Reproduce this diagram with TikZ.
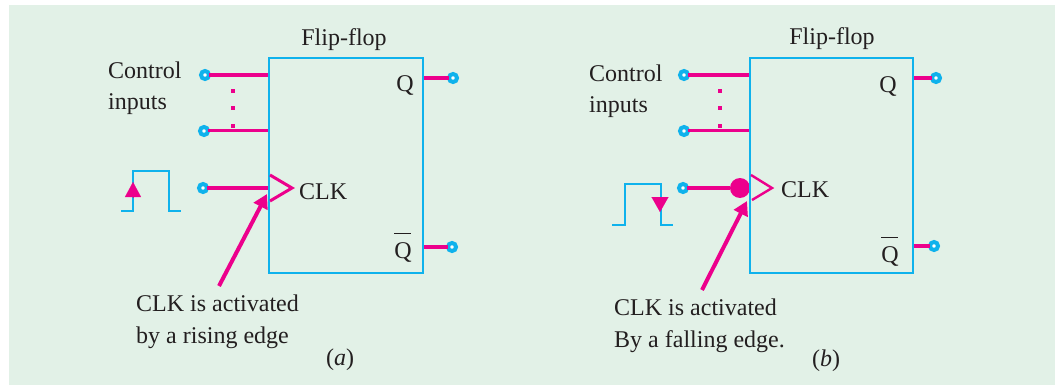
\documentclass[tikz,border=0pt]{standalone}
\usepackage{fontspec}
\setmainfont{Liberation Serif}
\usetikzlibrary{arrows.meta}
\definecolor{bgc}{HTML}{E2F1E7}
\definecolor{cy}{HTML}{0FB2EC}
\definecolor{mg}{HTML}{EC008C}
\definecolor{tx}{HTML}{231F20}
\newcommand{\qbar}{\rlap{\raisebox{24pt}{\rule{17pt}{1.3pt}}}Q}
\tikzset{x=1pt,y=-1pt,
 wire/.style={draw=mg,line width=3.4pt},
 thin wire/.style={draw=mg,line width=3pt},
 box/.style={draw=cy,line width=2.6pt,fill=none},
 pulse/.style={draw=cy,line width=2pt},
 term/.style={circle,draw=cy,fill=white,line width=4pt,minimum size=8pt,inner sep=0pt,outer sep=0pt},
 lab/.style={text=tx,font=\fontsize{24}{28}\selectfont,inner sep=0pt},
 arr/.style={draw=mg,line width=4pt,-{Triangle[length=14pt,width=15pt]}},
 dotm/.style={fill=mg,inner sep=0pt,minimum size=3.6pt,rectangle}
}
\begin{document}
\begin{tikzpicture}
\useasboundingbox (0,0) rectangle (1055,385);
\fill[bgc] (9,5) rectangle (1055,385);
% LEFT
\node[lab,anchor=base] (ft1) at (344,46) {Flip-flop};
\coordinate (b1nw) at (269,58); \coordinate (b1se) at (423,273);
\node[term] (i1) at (205,75) {};
\node[term] (i2) at (204,131) {};
\node[term] (i3) at (203,188) {};
\node[term] (o1) at (453,78) {};
\node[term] (o2) at (452,247) {};
\coordinate (e1) at (269,75); \coordinate (e2) at (269,131); \coordinate (e3) at (269,188);
\coordinate (e4) at (424,78); \coordinate (e5) at (424,247);
\draw[wire] (i1) -- (e1);
\draw[thin wire] (i2) -- (e2);
\draw[wire] (i3) -- (e3);
\draw[wire] (e4) -- (o1);
\draw[wire] (e5) -- (o2);
\draw[box] (b1nw) rectangle (b1se);
\draw[draw=mg,line width=3pt] (270,175) -- (292,188) -- (270,201);
\node[dotm] (d1) at (233,91) {};
\node[dotm] (d2) at (233,108) {};
\node[dotm] (d3) at (233,126) {};
\node[lab,anchor=base west] (c1) at (108,79) {Control};
\node[lab,anchor=base west] (c2) at (108,110) {inputs};
\node[lab,anchor=base west] (clk1) at (299,199) {CLK};
\node[lab,anchor=base] (q1) at (405,92) {Q};
\node[lab,anchor=base] (qb1) at (403,258) {\qbar};
\draw[pulse] (121,211) -- (133,211) -- (133,171) -- (169,171) -- (169,211) -- (181,211);
\coordinate (pa1s) at (133,197); \coordinate (pa1e) at (133,182);
\draw[-{Triangle[length=15pt,width=16pt]},draw=mg,fill=mg,line width=0.1pt] (pa1s) -- (pa1e);
\coordinate (a1s) at (219,286); \coordinate (a1e) at (267,194);
\draw[arr] (a1s) -- (a1e);
\node[lab,anchor=base west] (t1) at (136,311) {CLK is activated};
\node[lab,anchor=base west] (t2) at (136,343) {by a rising edge};
\node[lab,anchor=base] (ca) at (340,365) {(\textit{a})};
% RIGHT
\node[lab,anchor=base] (ft2) at (832,45) {Flip-flop};
\coordinate (b2nw) at (750,58); \coordinate (b2se) at (913,273);
\node[term] (j1) at (684,75) {};
\node[term] (j2) at (684,131) {};
\node[term] (j3) at (683,188) {};
\node[term] (p1) at (936,78) {};
\node[term] (p2) at (934,246) {};
\coordinate (f1) at (750,75); \coordinate (f2) at (750,131);
\coordinate (f4) at (913,78); \coordinate (f5) at (913,246);
\node[circle,fill=mg,inner sep=0pt,minimum size=20pt] (bub) at (740,188) {};
\draw[wire] (j1) -- (f1);
\draw[thin wire] (j2) -- (f2);
\draw[wire] (j3) -- (bub);
\draw[wire] (f4) -- (p1);
\draw[wire] (f5) -- (p2);
\draw[box] (b2nw) rectangle (b2se);
\draw[draw=mg,line width=2.4pt] (751,175) -- (772,188) -- (752,200);
\node[dotm] (g1) at (720,91) {};
\node[dotm] (g2) at (720,108) {};
\node[dotm] (g3) at (720,126) {};
\node[lab,anchor=base west] (c3) at (589,82) {Control};
\node[lab,anchor=base west] (c4) at (589,113) {inputs};
\node[lab,anchor=base west] (clk2) at (781,197) {CLK};
\node[lab,anchor=base] (q2) at (888,93) {Q};
\node[lab,anchor=base] (qb2) at (890,262) {\qbar};
\draw[pulse] (612,225) -- (625,225) -- (625,184) -- (661,184) -- (661,225) -- (673,225);
\coordinate (pa2s) at (660,197); \coordinate (pa2e) at (660,212);
\draw[-{Triangle[length=15pt,width=17pt]},draw=mg,fill=mg,line width=0.1pt] (pa2s) -- (pa2e);
\coordinate (a2s) at (702,290); \coordinate (a2e) at (747,201);
\draw[arr] (a2s) -- (a2e);
\node[lab,anchor=base west] (t3) at (614,315) {CLK is activated};
\node[lab,anchor=base west] (t4) at (614,347) {By a falling edge.};
\node[lab,anchor=base] (cb) at (826,366) {(\textit{b})};
\end{tikzpicture}
\end{document}
